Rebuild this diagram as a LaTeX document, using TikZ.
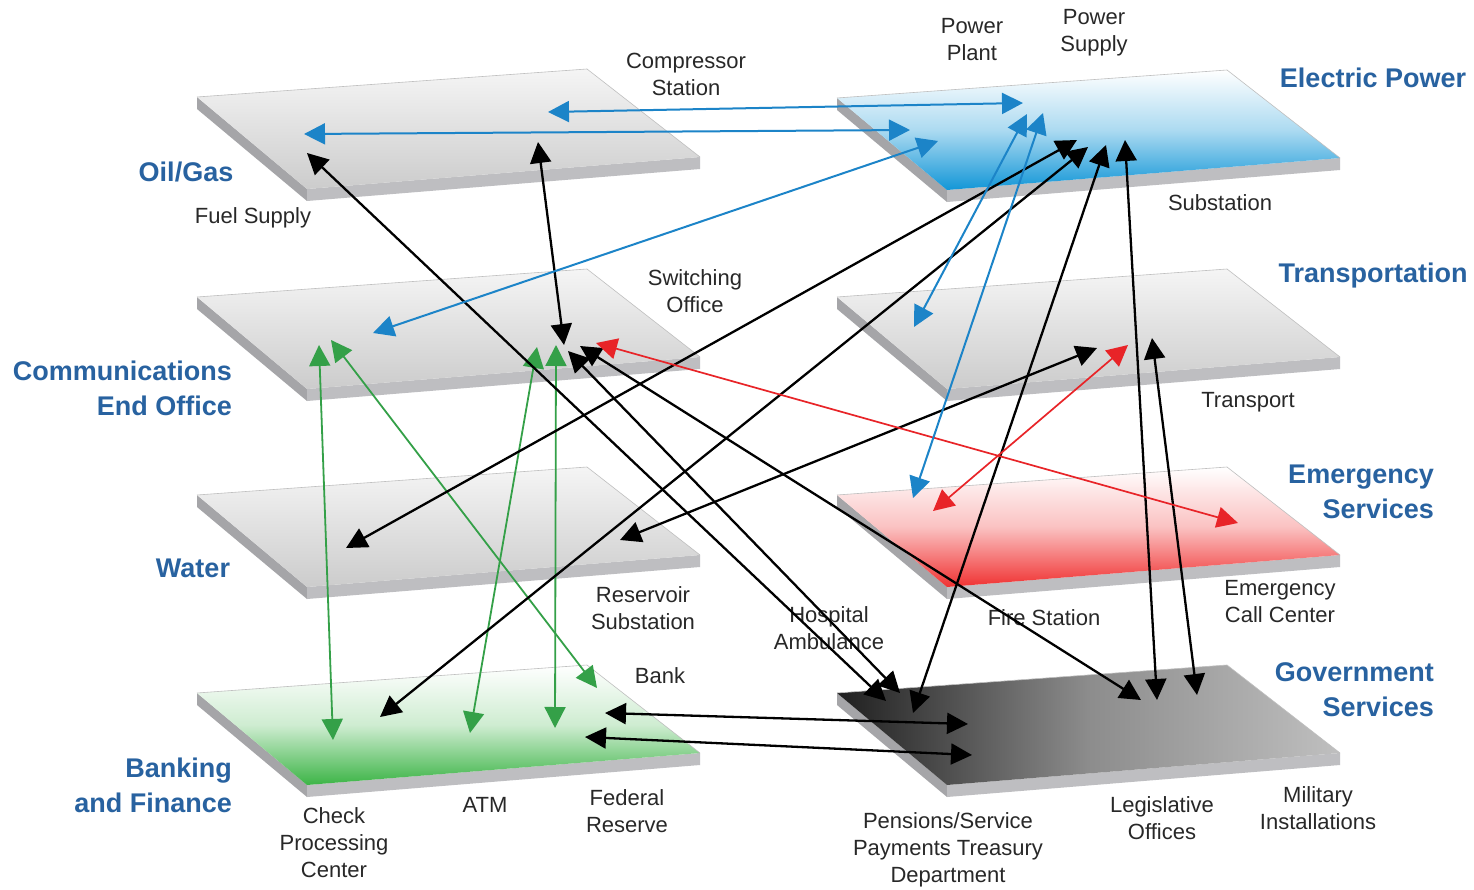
\documentclass[tikz,border=0pt]{standalone}
\usepackage{fontspec}
\setmainfont{Liberation Sans}
\usetikzlibrary{arrows.meta}
\definecolor{lblue}{RGB}{40,98,160}
\definecolor{ablue}{RGB}{28,132,200}
\definecolor{ared}{RGB}{232,36,40}
\definecolor{agreen}{RGB}{52,160,72}
\definecolor{txt}{RGB}{40,40,40}
\definecolor{sideA}{RGB}{165,165,168}
\definecolor{sideB}{RGB}{190,190,193}
\definecolor{elec}{RGB}{18,150,215}
\definecolor{emer}{RGB}{240,50,50}
\definecolor{bank}{RGB}{60,180,70}
\newcommand\drawplate[3]{%
  \begin{scope}[shift={(#1,#2)}]
    \fill[sideA] (0,0) -- (110,92) -- (110,104) -- (0,12) -- cycle;
    \fill[sideB] (110,92) -- (503,60) -- (503,72) -- (110,104) -- cycle;
    \shade[#3] (0,0) -- (390,-28) -- (503,60) -- (110,92) -- cycle;
    \draw[black!25, line width=0.6pt] (0,0) -- (390,-28) -- (503,60);
  \end{scope}}
\begin{document}
\begin{tikzpicture}[x=1pt,y=-1pt,
  sector/.style={font=\fontsize{27}{35}\selectfont\bfseries, text=lblue, inner sep=0pt, align=right},
  site/.style={font=\fontsize{22}{27}\selectfont, text=txt, inner sep=0pt, align=center},
  kconn/.style={line width=2.3pt, black, {Triangle[length=21pt,width=21pt]}-{Triangle[length=21pt,width=21pt]}},
  bconn/.style={line width=2pt, ablue, {Triangle[length=21pt,width=21pt]}-{Triangle[length=21pt,width=21pt]}},
  rconn/.style={line width=1.7pt, ared, {Triangle[length=21pt,width=21pt]}-{Triangle[length=21pt,width=21pt]}},
  gconn/.style={line width=1.8pt, agreen, {Triangle[length=21pt,width=21pt]}-{Triangle[length=21pt,width=21pt]}},
  grayplate/.style={top color=black!4, bottom color=black!20},
]
\useasboundingbox (0,0) rectangle (1474,890);
\fill[white] (0,0) rectangle (1474,890);

% plates
\drawplate{197}{97}{grayplate}
\drawplate{197}{297}{grayplate}
\drawplate{197}{495}{grayplate}
\drawplate{197}{693}{top color=white, bottom color=bank, middle color=bank!25}
\drawplate{837}{98}{top color=white, bottom color=elec, middle color=elec!35}
\drawplate{837}{297}{grayplate}
\drawplate{837}{495}{top color=white, bottom color=emer, middle color=emer!30}
\drawplate{837}{693}{left color=black!88, right color=black!25, middle color=black!45}

% sector labels
\node[sector] (lOil) at (186,172) {Oil/Gas};
\node[sector, anchor=east] (lComm) at (232,388) {Communications\\End Office};
\node[sector] (lWater) at (193,568) {Water};
\node[sector, anchor=east] (lBank) at (232,785) {Banking\\and Finance};
\node[sector] (lElec) at (1373,78) {Electric Power};
\node[sector] (lTrans) at (1373,276) {Transportation};
\node[sector, anchor=east] (lEmer) at (1434,492) {Emergency\\Services};
\node[sector, anchor=east] (lGov) at (1434,690) {Government\\Services};

% site labels
\node[site] (sComp) at (686,74) {Compressor\\Station};
\node[site] (sPlant) at (972,40) {Power\\Plant};
\node[site] (sSupply) at (1094,33) {Power\\Supply};
\node[site] (sFuel) at (253,218) {Fuel Supply};
\node[site] (sSub) at (1220,203) {Substation};
\node[site] (sSwitch) at (695,291) {Switching\\Office};
\node[site] (sTransp) at (1248,402) {Transport};
\node[site] (sRes) at (643,608) {Reservoir\\Substation};
\node[site] (sHosp) at (829,628) {Hospital\\Ambulance};
\node[site] (sFire) at (1044,618) {Fire Station};
\node[site] (sCall) at (1280,602) {Emergency\\Call Center};
\node[site] (sBankS) at (660,676) {Bank};
\node[site] (sCheck) at (334,843) {Check\\Processing\\Center};
\node[site] (sATM) at (485,805) {ATM};
\node[site] (sFed) at (627,811) {Federal\\Reserve};
\node[site] (sPens) at (948,850) {Pensions/Service\\Payments Treasury\\Department};
\node[site] (sLeg) at (1162,818) {Legislative\\Offices};
\node[site] (sMil) at (1318,808) {Military\\Installations};

% connector end points
\coordinate (b1a) at (548,112); \coordinate (b1b) at (1023,103);
\coordinate (b2a) at (304,134); \coordinate (b2b) at (910,130);
\coordinate (b3a) at (373,333); \coordinate (b3b) at (938,141);
\coordinate (b4a) at (914,327); \coordinate (b4b) at (1027,114);
\coordinate (b5a) at (913,498); \coordinate (b5b) at (1043,113);

\coordinate (r1a) at (596,343); \coordinate (r1b) at (1238,523);
\coordinate (r2a) at (933,511); \coordinate (r2b) at (1128,345);

\coordinate (g1a) at (319,345); \coordinate (g1b) at (333,740);
\coordinate (g2a) at (331,340); \coordinate (g2b) at (597,688);
\coordinate (g3a) at (537,347); \coordinate (g3b) at (470,733);
\coordinate (g4a) at (556,345); \coordinate (g4b) at (555,728);

\coordinate (k1a) at (538,142); \coordinate (k1b) at (564,345);
\coordinate (k2a) at (307,153); \coordinate (k2b) at (886,701);
\coordinate (k3a) at (568,351); \coordinate (k3b) at (900,693);
\coordinate (k4a) at (580,346); \coordinate (k4b) at (1141,700);
\coordinate (k5a) at (1077,140); \coordinate (k5b) at (346,548);
\coordinate (k6a) at (1088,147); \coordinate (k6b) at (380,717);
\coordinate (k7a) at (1106,145); \coordinate (k7b) at (913,713);
\coordinate (k8a) at (1125,140); \coordinate (k8b) at (1157,700);
\coordinate (k9a) at (1097,348); \coordinate (k9b) at (620,540);
\coordinate (k10a) at (1152,338); \coordinate (k10b) at (1197,695);
\coordinate (k11a) at (605,713); \coordinate (k11b) at (968,724);
\coordinate (k12a) at (585,737); \coordinate (k12b) at (972,755);

% connectors
\draw[gconn] (g1a) -- (g1b);
\draw[gconn] (g2a) -- (g2b);
\draw[gconn] (g3a) -- (g3b);
\draw[gconn] (g4a) -- (g4b);
\draw[kconn] (k1a) -- (k1b);
\draw[kconn] (k2a) -- (k2b);
\draw[kconn] (k3a) -- (k3b);
\draw[kconn] (k4a) -- (k4b);
\draw[kconn] (k5a) -- (k5b);
\draw[kconn] (k6a) -- (k6b);
\draw[kconn] (k7a) -- (k7b);
\draw[kconn] (k8a) -- (k8b);
\draw[kconn] (k9a) -- (k9b);
\draw[kconn] (k10a) -- (k10b);
\draw[kconn] (k11a) -- (k11b);
\draw[kconn] (k12a) -- (k12b);
\draw[rconn] (r1a) -- (r1b);
\draw[rconn] (r2a) -- (r2b);
\draw[bconn] (b1a) -- (b1b);
\draw[bconn] (b2a) -- (b2b);
\draw[bconn] (b3a) -- (b3b);
\draw[bconn] (b4a) -- (b4b);
\draw[bconn] (b5a) -- (b5b);
\end{tikzpicture}
\end{document}
